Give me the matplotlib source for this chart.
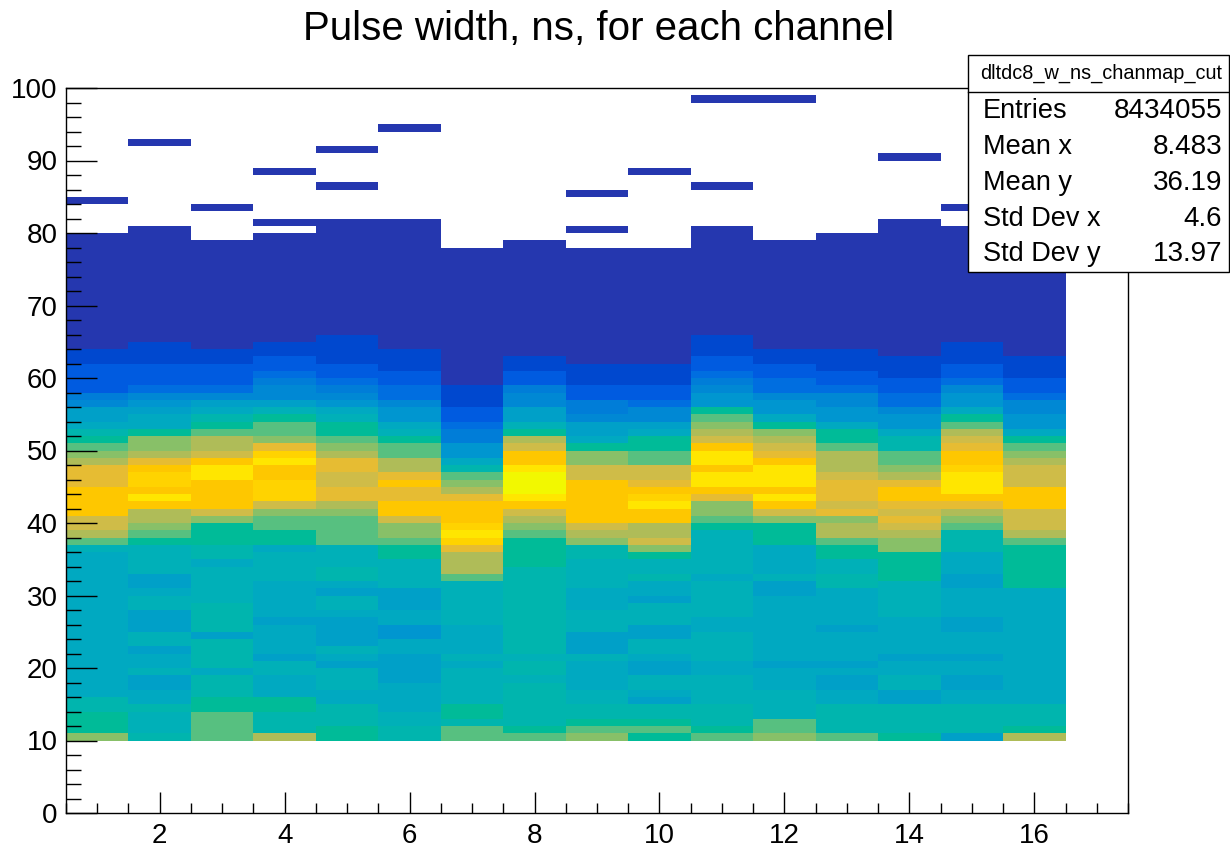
import numpy as np
import matplotlib
matplotlib.use("Agg")
import matplotlib.pyplot as plt
from matplotlib.colors import ListedColormap, BoundaryNorm
from matplotlib.patches import Rectangle
from matplotlib.ticker import MultipleLocator

plt.rcParams["font.family"] = ["Liberation Sans", "DejaVu Sans"]

# channel numbers (x bins, 1 wide, centred on the integer)
channels = list(range(1, 17))

# pulse width of the lowest filled bin, ns; bins are 1 ns high
y_start = 10

# colour level of every 1 ns bin per channel, as (level, number of bins) from 10 ns upward
runs_ch01 = [(13, 1), (11, 3), (10, 2), (8, 20), (9, 1), (12, 1), (14, 1), (15, 2), (17, 4), (16, 3),
             (14, 1), (13, 1), (12, 1), (11, 1), (10, 1), (8, 1), (7, 2), (5, 1), (4, 1), (2, 4), (1, 2), (0, 16)]
runs_ch02 = [(10, 1), (9, 3), (10, 1), (8, 2), (7, 2), (9, 1), (8, 2), (7, 1), (9, 2), (7, 3), (9, 2), (8, 1),
             (7, 2), (9, 4), (11, 1), (12, 1), (13, 1), (14, 2), (17, 1), (19, 1), (17, 1), (18, 2), (17, 1),
             (16, 1), (14, 1), (13, 2), (11, 1), (8, 2), (7, 1), (6, 1), (5, 1), (3, 1), (2, 3), (1, 3), (0, 16)]
runs_ch03 = [(12, 4), (11, 2), (10, 3), (8, 1), (10, 4), (7, 1), (10, 4), (9, 5), (8, 1), (10, 2), (11, 3),
             (13, 1), (15, 1), (17, 4), (19, 2), (17, 1), (15, 1), (14, 2), (12, 1), (11, 1), (10, 1), (8, 1),
             (7, 1), (5, 1), (3, 1), (2, 3), (1, 2), (0, 15)]
runs_ch04 = [(14, 1), (10, 3), (11, 2), (8, 3), (9, 2), (7, 1), (8, 4), (7, 1), (8, 5), (9, 4), (8, 1), (11, 2),
             (12, 2), (13, 1), (15, 1), (18, 3), (17, 2), (19, 1), (18, 1), (16, 1), (13, 1), (12, 2), (11, 1),
             (9, 1), (7, 1), (5, 2), (4, 1), (3, 1), (2, 2), (1, 2), (0, 15)]
runs_ch05 = [(11, 2), (10, 3), (8, 2), (9, 3), (7, 1), (8, 1), (9, 1), (7, 4), (8, 1), (9, 2), (7, 1), (8, 1),
             (10, 2), (9, 3), (12, 4), (13, 1), (14, 1), (16, 2), (15, 2), (16, 2), (14, 1), (13, 1), (12, 1),
             (11, 2), (9, 1), (8, 1), (6, 1), (5, 1), (4, 1), (3, 1), (2, 2), (1, 4), (0, 16)]
runs_ch06 = [(10, 2), (9, 2), (8, 4), (7, 4), (8, 2), (6, 2), (8, 2), (7, 3), (9, 4), (11, 2), (12, 1), (13, 2),
             (15, 1), (17, 2), (16, 2), (17, 1), (16, 1), (14, 2), (12, 2), (11, 1), (9, 1), (8, 1), (6, 2),
             (5, 1), (3, 2), (2, 2), (1, 3), (0, 18)]
runs_ch07 = [(12, 2), (10, 1), (11, 2), (9, 5), (8, 1), (9, 1), (8, 4), (9, 6), (12, 1), (14, 3), (16, 1),
             (18, 1), (19, 1), (18, 1), (17, 3), (16, 1), (14, 1), (13, 1), (12, 1), (10, 1), (8, 1), (6, 2),
             (4, 2), (3, 1), (2, 2), (1, 3), (0, 19)]
runs_ch08 = [(12, 1), (11, 1), (10, 6), (9, 1), (10, 2), (9, 1), (10, 12), (11, 4), (12, 1), (13, 1), (14, 1),
             (15, 1), (17, 1), (19, 1), (20, 3), (19, 1), (17, 2), (15, 1), (14, 1), (11, 1), (9, 1), (7, 2),
             (5, 2), (4, 1), (2, 2), (1, 2), (0, 16)]
runs_ch09 = [(13, 1), (12, 1), (11, 1), (10, 2), (9, 2), (8, 4), (9, 1), (7, 3), (9, 3), (8, 3), (9, 4), (10, 2),
             (13, 1), (14, 1), (15, 1), (17, 6), (15, 2), (13, 2), (11, 1), (8, 1), (7, 2), (5, 1), (4, 2),
             (2, 2), (1, 3), (0, 16)]
runs_ch10 = [(11, 1), (12, 1), (11, 1), (10, 2), (7, 1), (8, 1), (9, 2), (7, 2), (8, 1), (9, 2), (7, 2), (9, 3),
             (7, 1), (8, 2), (10, 1), (9, 2), (11, 1), (13, 1), (15, 1), (14, 2), (17, 2), (19, 1), (18, 1),
             (17, 1), (16, 1), (15, 2), (12, 2), (11, 2), (8, 1), (7, 1), (5, 2), (3, 1), (2, 2), (1, 3), (0, 16)]
runs_ch11 = [(12, 1), (11, 1), (10, 3), (9, 4), (8, 2), (9, 4), (8, 2), (9, 5), (8, 1), (9, 6), (11, 1), (12, 1),
             (13, 2), (16, 1), (17, 1), (19, 2), (17, 1), (19, 2), (17, 1), (15, 1), (14, 1), (13, 1), (12, 1),
             (11, 1), (6, 2), (5, 1), (4, 1), (3, 1), (2, 2), (1, 3), (0, 15)]
runs_ch12 = [(13, 1), (12, 2), (9, 4), (8, 3), (7, 1), (8, 9), (7, 2), (9, 1), (8, 4), (11, 3), (13, 1), (15, 1),
             (17, 1), (19, 1), (17, 1), (19, 3), (17, 1), (16, 1), (15, 1), (14, 1), (13, 1), (11, 1), (8, 1),
             (6, 2), (5, 1), (3, 2), (2, 2), (1, 2), (0, 15)]
runs_ch13 = [(12, 1), (10, 4), (8, 2), (7, 2), (8, 1), (7, 1), (8, 4), (7, 1), (8, 5), (10, 2), (9, 2), (11, 2),
             (12, 1), (14, 2), (13, 1), (16, 1), (15, 1), (16, 3), (15, 1), (14, 3), (12, 1), (11, 2), (8, 1),
             (6, 2), (5, 2), (3, 1), (2, 2), (1, 3), (0, 16)]
runs_ch14 = [(11, 1), (10, 4), (7, 2), (9, 2), (8, 2), (7, 1), (8, 5), (9, 5), (11, 4), (13, 2), (14, 1),
             (15, 1), (16, 1), (15, 1), (16, 1), (17, 2), (16, 1), (14, 1), (13, 1), (12, 2), (10, 2), (8, 1),
             (6, 2), (5, 1), (3, 2), (2, 2), (1, 3), (0, 19)]
runs_ch15 = [(7, 1), (10, 4), (8, 2), (7, 2), (8, 2), (7, 1), (8, 3), (7, 2), (8, 4), (7, 2), (8, 3), (10, 3),
             (12, 1), (13, 1), (14, 1), (16, 1), (17, 1), (19, 3), (18, 1), (17, 2), (16, 1), (15, 1), (14, 1),
             (12, 1), (11, 1), (8, 1), (6, 2), (5, 1), (3, 1), (2, 2), (1, 3), (0, 16)]
runs_ch16 = [(14, 1), (11, 1), (10, 3), (8, 16), (11, 6), (12, 1), (14, 1), (15, 3), (17, 3), (15, 3), (14, 1),
             (13, 1), (12, 1), (11, 1), (8, 1), (6, 2), (5, 2), (3, 1), (2, 2), (1, 3), (0, 17)]

all_runs = [runs_ch01, runs_ch02, runs_ch03, runs_ch04, runs_ch05, runs_ch06, runs_ch07, runs_ch08,
            runs_ch09, runs_ch10, runs_ch11, runs_ch12, runs_ch13, runs_ch14, runs_ch15, runs_ch16]

# isolated single bins above the main band (all at the lowest level)
lone_ch = [1, 2, 3, 4, 4, 5, 5, 6, 9, 9, 10, 11, 11, 12, 14, 15]
lone_y = [84, 92, 83, 88, 81, 91, 86, 94, 85, 80, 88, 86, 98, 98, 90, 83]

# statistics box
hist_name = "dltdc8_w_ns_chanmap_cut"
stat_names = ["Entries", "Mean x", "Mean y", "Std Dev x", "Std Dev y"]
stat_values = ["8434055", "8.483", "36.19", "4.6", "13.97"]

# bird-like palette, one colour per contour level
palette = ["#2537af", "#0048cf", "#005be0", "#006ee0", "#007dd8", "#0088d4", "#0096d0",
           "#00a0c8", "#00a9c1", "#00b0b8", "#00b5ae", "#00bb98", "#57c080", "#88c068",
           "#afbc58", "#cfbc48", "#e6bc33", "#fec700", "#ffd300", "#ffe600", "#f2f800"]


def build_grid():
    """Fills a 100 x 17 grid (y bins of 1 ns, x bins per channel) from the run lists."""
    z = np.full((100, 17), np.nan)
    for ch, runs in zip(channels, all_runs):
        levels = [lvl for lvl, n in runs for _ in range(n)]
        z[y_start:y_start + len(levels), ch - 1] = levels
    for ch, y in zip(lone_ch, lone_y):
        z[y, ch - 1] = 0
    return np.ma.masked_invalid(z)


def main():
    fig = plt.figure(figsize=(12.3, 8.48), dpi=100)
    ax = fig.add_axes([66 / 1230, 35 / 848, 1062 / 1230, 725 / 848])

    z = build_grid()
    x_edges = np.arange(0.5, 18.0, 1.0)
    y_edges = np.arange(0, 101, 1)
    cmap = ListedColormap(palette)
    norm = BoundaryNorm(np.arange(-0.5, len(palette), 1.0), len(palette))
    ax.pcolormesh(x_edges, y_edges, z, cmap=cmap, norm=norm,
                  edgecolors="face", linewidth=0, antialiased=False)

    ax.set_xlim(0.5, 17.5)
    ax.set_ylim(0, 100)

    # ROOT-style inward ticks
    ax.xaxis.set_major_locator(MultipleLocator(2))
    ax.xaxis.set_minor_locator(MultipleLocator(0.5))
    ax.yaxis.set_major_locator(MultipleLocator(10))
    ax.yaxis.set_minor_locator(MultipleLocator(2))
    ax.tick_params(axis="x", which="major", direction="in", length=15, width=1, labelsize=20, pad=7)
    ax.tick_params(axis="x", which="minor", direction="in", length=7.5, width=1)
    ax.tick_params(axis="y", which="major", direction="in", length=22, width=1, labelsize=20, pad=6)
    ax.tick_params(axis="y", which="minor", direction="in", length=11, width=1)
    for s in ax.spines.values():
        s.set_linewidth(1.0)

    fig.text(599 / 1230, 1 - 29 / 848, "Pulse width, ns, for each channel",
             ha="center", va="center", fontsize=29)

    # statistics box in the upper right corner
    bx0, bx1 = 968 / 1230, 1229 / 1230
    by0, by1 = 1 - 272 / 848, 1 - 55 / 848
    fig.patches.append(Rectangle((bx0, by0), bx1 - bx0, by1 - by0, transform=fig.transFigure,
                                 facecolor="white", edgecolor="black", linewidth=1.0, zorder=5))
    sep = 1 - 92 / 848
    fig.add_artist(plt.Line2D([bx0, bx1], [sep, sep], transform=fig.transFigure,
                              color="black", linewidth=1.0, zorder=6))
    fig.text(1101 / 1230, 1 - 73 / 848, hist_name, ha="center", va="center",
             fontsize=14.3, zorder=7)
    row_y = [111, 147, 183, 219, 254]
    for name, val, py in zip(stat_names, stat_values, row_y):
        fig.text(983 / 1230, 1 - py / 848, name, ha="left", va="center", fontsize=19.5, zorder=7)
        fig.text(1222 / 1230, 1 - py / 848, val, ha="right", va="center", fontsize=20, zorder=7)

    fig.savefig("out.png", dpi=100)
    plt.close(fig)


if __name__ == "__main__":
    main()
